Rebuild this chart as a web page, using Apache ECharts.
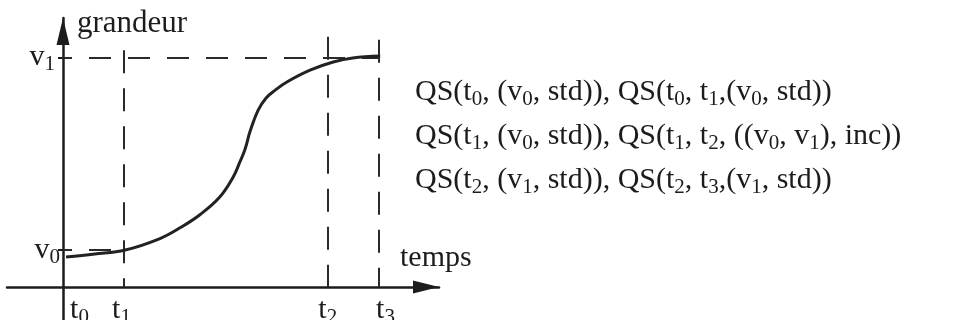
<!DOCTYPE html>
<html>
<head>
<meta charset="utf-8">
<script src="https://cdn.jsdelivr.net/npm/echarts@6/dist/echarts.min.js"></script>
<style>
  html, body { margin: 0; padding: 0; background: #fff; }
  #chart { width: 953px; height: 320px; }
</style>
</head>
<body>
<div id="chart"></div>
<script>
// Instants marked on the time axis
const timeNames = ['t0', 't1', 't2', 't3'];
const timeValues = [0, 10, 43.4, 51.8];

// Levels marked on the quantity axis
const levelNames = ['v0', 'v1'];
const levelValues = [10, 62];

// Sampled transition of the quantity from v0 to v1
const curveTime  = [0.5, 5.2, 10.2, 15.9, 19.2, 22.5, 25.7, 27.9, 29.0, 29.8, 30.7, 32.0, 33.3, 34.8, 36.7, 40.5, 44.3, 47.5, 52.0];
const curveValue = [8.1, 8.9, 10.0, 13.1, 16.0, 19.6, 24.3, 29.7, 33.8, 37.0, 42.2, 47.8, 51.1, 53.2, 55.4, 58.6, 60.8, 61.9, 62.4];

// Qualitative states over the episode ({s|..} = subscript)
const stateLines = [
  'QS(t{s|0}, (v{s|0}, std)), QS(t{s|0}, t{s|1},(v{s|0}, std))',
  'QS(t{s|1}, (v{s|0}, std)), QS(t{s|1}, t{s|2}, ((v{s|0}, v{s|1}), inc))',
  'QS(t{s|2}, (v{s|1}, std)), QS(t{s|2}, t{s|3},(v{s|1}, std))'
];

const INK = '#1c1c1c';
const FONT = '"Liberation Serif", "Times New Roman", serif';

// Hand-set nudges of the tick labels (px): left / right padding of each label
const timeLabelPad = [[33, 0], [0, 5], [0, 0], [13, 0]];
const levelLabelPad = [[0, 0], [0, 5]];

function subStyle(padRight) {
  return { fontSize: 21, fontFamily: FONT, color: INK, padding: [14, padRight, 0, 0], lineHeight: 21 };
}
function mainStyle(padLeft) {
  return { fontSize: 30, fontFamily: FONT, color: INK, padding: [0, 0, 0, padLeft] };
}

// builds rich styles m0.., s0.. for a list of paddings
function labelRich(pads) {
  const rich = {};
  pads.forEach((p, i) => {
    rich['m' + i] = mainStyle(p[0]);
    rich['s' + i] = subStyle(p[1]);
  });
  return rich;
}

// 'v0' -> '{m1|v}{s1|0}'
function subLabel(name, i) {
  return '{m' + i + '|' + name.charAt(0) + '}{s' + i + '|' + name.slice(1) + '}';
}

const [t0, t1, t2, t3] = timeValues;
const [v0, v1] = levelValues;

// how far the vertical guides rise above the v1 level
const guideRise = [2, 5.6, 4.8];

const hdash = { color: '#2a2a2a', width: 2, type: [22, 17], dashOffset: 13 };
const vdash = { color: '#2a2a2a', width: 2, type: [23, 15], dashOffset: 0 };

const chart = echarts.init(document.getElementById('chart'), null, { renderer: 'canvas' });

chart.setOption({
  animation: false,
  backgroundColor: '#ffffff',
  grid: { left: 7, right: 514, top: 18, bottom: 0, containLabel: false, outerBoundsMode: 'none' },
  xAxis: {
    type: 'value',
    position: 'bottom',
    offset: -33,
    min: -9.18,
    max: 61.64,
    name: 'temps',
    nameLocation: 'end',
    nameGap: -39,
    nameMoveOverlap: false,
    nameTextStyle: { fontFamily: FONT, fontSize: 30, color: INK, align: 'left', verticalAlign: 'bottom', padding: [0, 0, 14, 0] },
    axisLine: {
      onZero: false,
      lineStyle: { color: INK, width: 2.5 },
      symbol: ['none', 'triangle'],
      symbolSize: [13, 26],
      symbolOffset: [0, -13]
    },
    axisTick: { show: false },
    splitLine: { show: false },
    axisLabel: {
      customValues: timeValues,
      margin: 8,
      fontFamily: FONT,
      fontSize: 30,
      color: INK,
      formatter: (val) => {
        const i = timeValues.indexOf(val);
        return i < 0 ? '' : subLabel(timeNames[i], i);
      },
      rich: labelRich(timeLabelPad)
    }
  },
  yAxis: {
    type: 'value',
    position: 'left',
    offset: -56,
    min: -8.92,
    max: 72.7,
    name: 'grandeur',
    nameLocation: 'end',
    nameGap: -6,
    nameMoveOverlap: false,
    nameTextStyle: { fontFamily: FONT, fontSize: 31, color: INK, align: 'left', verticalAlign: 'middle', padding: [0, 0, 0, 14] },
    axisLine: {
      onZero: false,
      lineStyle: { color: INK, width: 2.5 },
      symbol: ['none', 'triangle'],
      symbolSize: [13, 27],
      symbolOffset: [0, -13.5]
    },
    axisTick: { show: true, customValues: levelValues, length: 5, lineStyle: { color: INK, width: 2 } },
    splitLine: { show: false },
    axisLabel: {
      customValues: levelValues,
      margin: 3,
      fontFamily: FONT,
      fontSize: 30,
      color: INK,
      formatter: (val) => {
        const i = levelValues.indexOf(val);
        return i < 0 ? '' : subLabel(levelNames[i], i);
      },
      rich: labelRich(levelLabelPad)
    }
  },
  series: [
    {
      name: 'grandeur',
      type: 'line',
      data: curveTime.map((t, i) => [t, curveValue[i]]),
      smooth: 0.4,
      showSymbol: false,
      lineStyle: { color: '#222222', width: 3 },
      z: 5,
      markLine: {
        silent: true,
        symbol: ['none', 'none'],
        label: { show: false },
        emphasis: { disabled: true },
        data: [
          [{ coord: [t0, v0], lineStyle: hdash }, { coord: [t1, v0] }],
          [{ coord: [t0, v1], lineStyle: hdash }, { coord: [t3, v1] }],
          [{ coord: [t1, v1 + guideRise[0]], lineStyle: vdash }, { coord: [t1, 0] }],
          [{ coord: [t2, v1 + guideRise[1]], lineStyle: vdash }, { coord: [t2, 0] }],
          [{ coord: [t3, v1 + guideRise[2]], lineStyle: vdash }, { coord: [t3, 0] }]
        ]
      }
    }
  ],
  graphic: [
    {
      type: 'text',
      left: 415,
      top: 70,
      style: {
        text: stateLines.join('\n'),
        font: '30px ' + FONT,
        fill: INK,
        lineHeight: 44,
        rich: {
          s: { fontSize: 21, fontFamily: FONT, fill: INK, padding: [14, 0, 0, 0], lineHeight: 21 }
        }
      }
    }
  ]
});
</script>
</body>
</html>
